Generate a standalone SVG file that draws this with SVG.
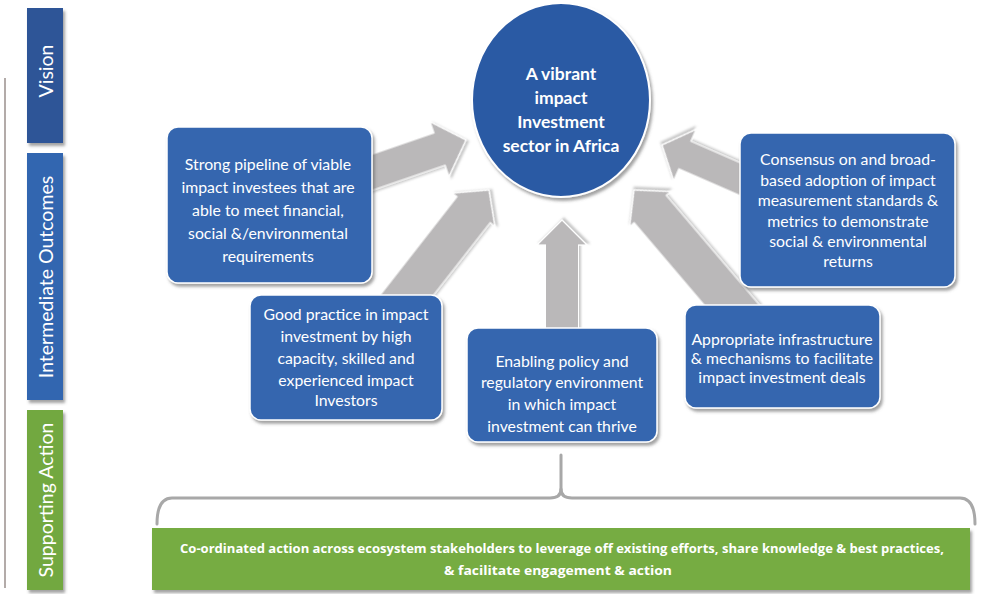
<svg xmlns="http://www.w3.org/2000/svg" width="996" height="594" viewBox="0 0 996 594">
<defs>
<filter id="sh" x="-10%" y="-10%" width="125%" height="130%"><feDropShadow dx="2" dy="3" stdDeviation="1.5" flood-color="#555" flood-opacity="0.55"/></filter>
<filter id="ash" x="-10%" y="-10%" width="125%" height="130%"><feDropShadow dx="2" dy="2" stdDeviation="1" flood-color="#777" flood-opacity="0.4"/></filter>
</defs>
<style>
.box{fill:#3466AF;stroke:#fff;stroke-width:1.5;filter:url(#sh)}
.t{font-family:Lato,"Liberation Sans",sans-serif;font-size:15.8px;fill:#fff;text-anchor:middle}
.tb{font-family:Lato,"Liberation Sans",sans-serif;font-size:17.5px;font-weight:bold;fill:#fff;text-anchor:middle}
.lab{font-family:Lato,"Liberation Sans",sans-serif;font-size:19.5px;fill:#fff;text-anchor:middle;dominant-baseline:central}
.arrow{fill:#BAB8B9;stroke:#fff;stroke-width:1.2;filter:url(#ash)}
.brk{fill:none;stroke:#A8A8A8;stroke-width:3;stroke-linecap:round;stroke-linejoin:round}
.gt{font-family:"Open Sans","Liberation Sans",sans-serif;font-size:13px;font-weight:bold;fill:#fff;text-anchor:middle}
</style>
<rect width="996" height="594" fill="#fff"/>

<line x1="5" y1="78" x2="5" y2="588" stroke="#9a8f8c" stroke-width="1.5"/>
<g id="label-vision">
<rect x="27" y="8" width="36" height="135" fill="#2D5597" filter="url(#sh)"/>
<text class="lab" transform="translate(45,71) rotate(-90)">Vision</text>
</g>
<g id="label-intermediate">
<rect x="27" y="153" width="36" height="247" fill="#3366B0" filter="url(#sh)"/>
<text class="lab" transform="translate(45,277) rotate(-90)">Intermediate Outcomes</text>
</g>
<g id="label-supporting">
<rect x="27" y="410" width="36" height="180" fill="#72A83F" filter="url(#sh)"/>
<text class="lab" transform="translate(45,500) rotate(-90)">Supporting Action</text>
</g>

<g id="connectors">
<polygon class="arrow" transform="translate(466,140) rotate(-19)" points="-112,-17 -28,-17 -28,-29 0,0 -28,29 -28,17 -112,17"/>
<polygon class="arrow" transform="translate(489,190) rotate(-52)" points="-155,-21 -25,-21 -25,-27 0,0 -25,27 -25,21 -155,21"/>
<polygon class="arrow" transform="translate(562,220) rotate(-90)" points="-115,-16.5 -25,-16.5 -25,-25 0,0 -25,25 -25,16.5 -115,16.5"/>
<polygon class="arrow" transform="translate(634,190) rotate(-130.4)" points="-172,-21 -25,-21 -25,-27 0,0 -25,27 -25,21 -172,21"/>
<polygon class="arrow" transform="translate(662,145) rotate(-156.4)" points="-100,-15 -25,-15 -25,-28 0,0 -25,28 -25,15 -100,15"/>
<path class="brk" d="M561,455 L561,490"/>
<path class="brk" d="M157,524 Q157,498 172,498 L550,498 Q561,498 561,489 Q561,498 572,498 L960,498 Q975,498 975,524"/>
</g>

<g id="vision">
<ellipse cx="561" cy="100" rx="89" ry="97" fill="#2C5AA4" stroke="#fff" stroke-width="2" filter="url(#sh)"/>
<text class="tb" x="561" y="80">A vibrant</text>
<text class="tb" x="561" y="104">impact</text>
<text class="tb" x="561" y="128">Investment</text>
<text class="tb" x="561" y="152">sector in Africa</text>
</g>

<g id="pipeline">
<rect class="box" x="167" y="127" width="205" height="156" rx="11"/>
<text class="t" x="268" y="170">Strong pipeline of viable</text>
<text class="t" x="268" y="193">impact investees that are</text>
<text class="t" x="268" y="216">able to meet financial,</text>
<text class="t" x="268" y="239">social &amp;/environmental</text>
<text class="t" x="268" y="262">requirements</text>
</g>

<g id="good-practice">
<rect class="box" x="250" y="295" width="192" height="125" rx="11"/>
<text class="t" x="346" y="320">Good practice in impact</text>
<text class="t" x="346" y="342">investment by high</text>
<text class="t" x="346" y="364">capacity, skilled and</text>
<text class="t" x="346" y="386">experienced impact</text>
<text class="t" x="346" y="406">Investors</text>
</g>

<g id="enabling-policy">
<rect class="box" x="467" y="328" width="190" height="114" rx="11"/>
<text class="t" x="562" y="367">Enabling policy and</text>
<text class="t" x="562" y="388">regulatory environment</text>
<text class="t" x="562" y="410">in which impact</text>
<text class="t" x="562" y="432">investment can thrive</text>
</g>

<g id="infrastructure">
<rect class="box" x="685" y="305" width="195" height="103" rx="11"/>
<text class="t" x="782" y="345">Appropriate infrastructure</text>
<text class="t" x="782" y="364">&amp; mechanisms to facilitate</text>
<text class="t" x="782" y="383">impact investment deals</text>
</g>

<g id="consensus">
<rect class="box" x="740" y="133" width="215" height="154" rx="11"/>
<text class="t" x="848" y="165">Consensus on and broad-</text>
<text class="t" x="848" y="186">based adoption of impact</text>
<text class="t" x="848" y="206">measurement standards &amp;</text>
<text class="t" x="848" y="227">metrics to demonstrate</text>
<text class="t" x="848" y="247">social &amp; environmental</text>
<text class="t" x="848" y="267">returns</text>
</g>

<g id="coordinated-action">
<rect x="152" y="528" width="818" height="62" fill="#76AC42" filter="url(#sh)"/>
<text class="gt" x="562" y="553" textLength="764" lengthAdjust="spacingAndGlyphs">Co-ordinated action across ecosystem stakeholders to leverage off existing efforts, share knowledge &amp; best practices,</text>
<text class="gt" x="558" y="575" textLength="228" lengthAdjust="spacingAndGlyphs">&amp; facilitate engagement &amp; action</text>
</g>
</svg>
